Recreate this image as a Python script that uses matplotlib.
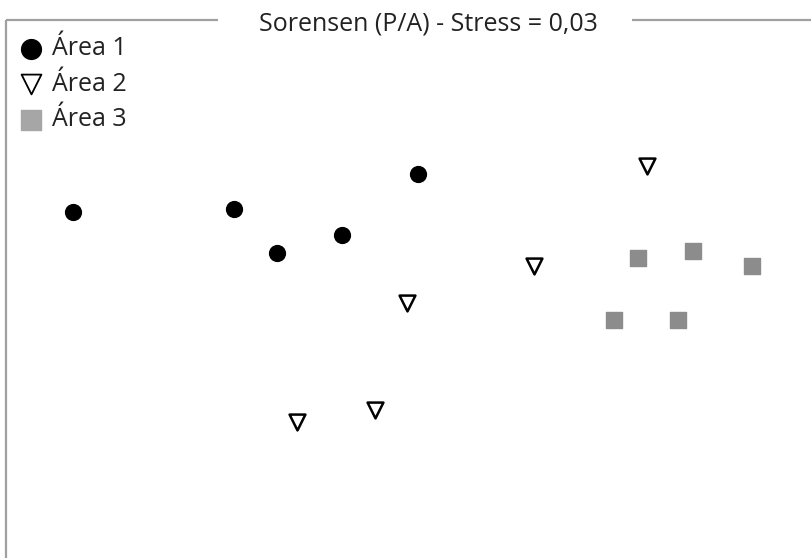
import matplotlib.pyplot as plt

plt.rcParams['font.family'] = ['Open Sans', 'DejaVu Sans']

# coordenadas NMDS (escala arbitraria, eixo y invertido)
area1_x = [73, 234, 277, 342, 418]
area1_y = [212, 209, 253, 235, 174]
area2_x = [647, 534, 407, 375, 297]
area2_y = [166, 266, 303, 410, 422]
area3_x = [638, 693, 752, 614, 678]
area3_y = [258, 251, 266, 320, 320]

title = 'Sorensen (P/A) - Stress = 0,03'
labels = ['Área 1', 'Área 2', 'Área 3']

fig = plt.figure(figsize=(8.12, 5.58), dpi=100)
ax = fig.add_axes([0, 0, 1, 1])
ax.set_xlim(0, 812)
ax.set_ylim(558, 0)
ax.axis('off')

ax.scatter(area1_x, area1_y, s=130, marker='o', color='black', label=labels[0], zorder=3)
ax.scatter(area2_x, area2_y, s=130, marker='v', facecolor='white', edgecolor='black',
           linewidth=1.8, label=labels[1], zorder=3)
ax.scatter(area3_x, area3_y, s=130, marker='s', color='#8c8c8c', label=labels[2], zorder=3)

# moldura: esquerda e topo com espaço para o título
line_kw = dict(color='#a0a0a0', linewidth=1.6, solid_capstyle='butt')
ax.plot([6, 6], [20, 558], **line_kw)
ax.plot([6, 218], [20, 20], **line_kw)
ax.plot([632, 812], [20, 20], **line_kw)

ax.text(428, 24, title, ha='center', va='center', fontsize=18, color='#222222')

leg = ax.legend(loc='upper left', bbox_to_anchor=(0.0105, 0.953), frameon=False,
                fontsize=18, handletextpad=0.35, labelspacing=0.42,
                borderaxespad=0, handlelength=1.0, markerscale=1.25)
for t in leg.get_texts():
    t.set_color('#222222')
leg.legend_handles[1].set_linewidth(1.3)
leg.legend_handles[2].set_color('#a6a6a6')

fig.savefig('out.png', dpi=100)
